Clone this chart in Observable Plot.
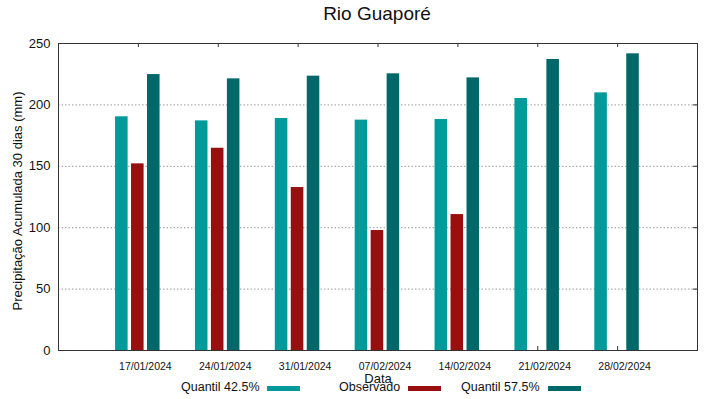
<!DOCTYPE html>
<html><head><meta charset="utf-8">
<script src="https://cdn.jsdelivr.net/npm/d3@7"></script>
<script src="https://cdn.jsdelivr.net/npm/@observablehq/plot@0.6"></script>
<style>
body{margin:0;background:#fff;font-family:"Liberation Sans",Arial,sans-serif;}
#wrap{position:relative;width:719px;height:399px;overflow:hidden;}
.t{position:absolute;white-space:nowrap;color:#111;line-height:1;}
.sw{position:absolute;height:5px;width:33px;}
</style></head><body><div id="wrap"></div>
<script>
// ---- data ----
const dates = ["2024-01-17","2024-01-24","2024-01-31","2024-02-07","2024-02-14","2024-02-21","2024-02-28"];
const quantil425 = [190.3, 187.0, 188.9, 187.6, 188.1, 205.2, 209.8];
const observado  = [152.0, 164.7, 132.7, 97.7, 110.7, null, null];
const quantil575 = [224.7, 221.2, 223.4, 225.3, 222.0, 237.0, 241.6];
const seriesNames = ["Quantil 42.5%", "Observado", "Quantil 57.5%"];
const seriesColors = ["#009a9a", "#990e0e", "#006868"];
const seriesOffsetDays = [-1.45, -0.05, 1.35];
const yTicks = [0, 50, 100, 150, 200, 250];
const gridTicks = [50, 100, 150, 200];
const title = "Rio Guaporé";
const yLabel = "Precipitação Acumulada 30 dias (mm)";
const xLabel = "Data";
const xDomain = ["2024-01-10", "2024-03-06"];

// ---- build ----
const parse = d3.utcParse("%Y-%m-%d");
const dateObjs = dates.map(parse);
const DAY = 864e5, HALF = 0.55 * DAY;
const seriesValues = [quantil425, observado, quantil575];
const rows = [];
seriesValues.forEach((vals, s) => {
  vals.forEach((v, i) => {
    if (v == null) return;
    const c = +dateObjs[i] + seriesOffsetDays[s] * DAY;
    rows.push({series: seriesNames[s], x1: new Date(c - HALF), x2: new Date(c + HALF), value: v});
  });
});

const W = 719, H = 399, mL = 58, mR = 22, mT = 43, mB = 49;
const pw = W - mL - mR, ph = H - mT - mB;

const chart = Plot.plot({
  width: W, height: H,
  marginLeft: mL, marginRight: mR, marginTop: mT, marginBottom: mB,
  style: {fontFamily: "'Liberation Sans', Arial, sans-serif", background: "#fff", color: "#111"},
  x: {type: "utc", domain: xDomain.map(parse)},
  y: {domain: [0, 250]},
  color: {domain: seriesNames, range: seriesColors},
  marks: [
    Plot.ruleY(gridTicks, {stroke: "#9a9a9a", strokeWidth: 1, strokeDasharray: "1.5,2"}),
    Plot.tickY(gridTicks, {y: d => d, stroke: "#333", insetLeft: pw - 4}),
    Plot.tickX(dateObjs, {x: d => d, stroke: "#333", insetBottom: ph - 4}),
    Plot.tickX(dateObjs, {x: d => d, stroke: "#333", insetTop: ph - 4}),
    Plot.rectY(rows, {x1: "x1", x2: "x2", y1: 0, y2: "value", fill: "series"}),
    Plot.axisY({ticks: yTicks, tickSize: 0, tickPadding: 8, fontSize: 13, label: null}),
    Plot.axisX({ticks: dateObjs, tickSize: 0, tickPadding: 12, fontSize: 10.5, dx: 7,
      tickFormat: d3.utcFormat("%d/%m/%Y"), label: null}),
    Plot.frame({stroke: "#333", strokeWidth: 1})
  ]
});

const wrap = document.getElementById("wrap");
wrap.appendChild(chart);

function addText(txt, size, left, top, extra) {
  const el = document.createElement("div");
  el.className = "t";
  el.textContent = txt;
  el.style.fontSize = size + "px";
  el.style.left = left + "px";
  el.style.top = top + "px";
  if (extra) Object.assign(el.style, extra);
  wrap.appendChild(el);
  return el;
}
addText(title, 19, 377, 4, {transform: "translateX(-50%)"});
addText(yLabel, 13, 17, 201, {transform: "translate(-50%,-50%) rotate(-90deg)"});
addText(xLabel, 13, 378, 372, {transform: "translateX(-50%)"});

const legendTextLeft = [181, 339, 461];
const legendSwatchLeft = [267, 408, 548];
seriesNames.forEach((n, i) => {
  addText(n, 12.5, legendTextLeft[i], 380.5);
  const sw = document.createElement("div");
  sw.className = "sw";
  sw.style.left = legendSwatchLeft[i] + "px";
  sw.style.top = "386px";
  sw.style.background = seriesColors[i];
  wrap.appendChild(sw);
});
</script>
</body></html>
